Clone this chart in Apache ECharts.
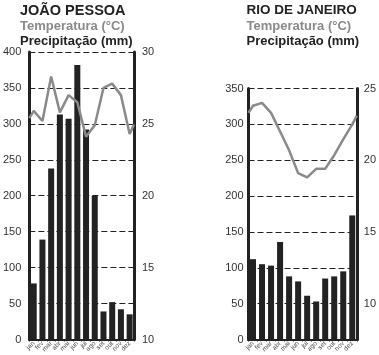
<!DOCTYPE html>
<html>
<head>
<meta charset="utf-8">
<script src="https://cdn.jsdelivr.net/npm/echarts@6/dist/echarts.min.js"></script>
<style>
html,body{margin:0;padding:0;background:#fff;}
#chart{width:379px;height:355px;}
</style>
</head>
<body>
<div id="chart"></div>
<script>
// ---- data ----
const months = ['jan','fev','mar','abr','mai','jun','jul','ago','set','out','nov','dez'];

const jpTitle = 'JOÃO PESSOA';
const jpPrecip = [78, 139, 238, 313, 307, 382, 292, 200, 39, 52, 42, 35];
const jpTemp = [25.9, 25.2, 28.3, 25.8, 27.0, 26.5, 24.1, 24.9, 27.5, 27.8, 27.0, 24.3];
const jpTempEdges = [25.4, 24.95];   // line value at the left / right axis

const rjTitle = 'RIO DE JANEIRO';
const rjPrecip = [112, 105, 103, 136, 88, 81, 61, 53, 85, 88, 95, 173];
const rjTemp = [23.8, 24.0, 23.3, 22.0, 20.7, 19.1, 18.8, 19.4, 19.4, 20.35, 21.45, 22.5];
const rjTempEdges = [23.3, 23.1];

const tempLabel = 'Temperatura (°C)';
const precLabel = 'Precipitação (mm)';

// ---- chart ----
const FONT = '"Liberation Sans", Arial, sans-serif';
const DARK = '#222';
const GREY = '#8a8a8a';

function linePts(temps, edges) {
  const pts = [[0, edges[0]]];
  temps.forEach((t, i) => pts.push([i + 0.5, t]));
  pts.push([months.length, edges[1]]);
  return pts;
}

function titles(x, name, nameSize) {
  return [
    {text: name, left: x, top: 3.5, padding: 0,
     textStyle: {fontFamily: FONT, fontWeight: 'bold', fontSize: nameSize, color: DARK}},
    {text: tempLabel, left: x, top: 20, padding: 0,
     textStyle: {fontFamily: FONT, fontWeight: 'bold', fontSize: 13, color: GREY}},
    {text: precLabel, left: x, top: 34.5, padding: 0,
     textStyle: {fontFamily: FONT, fontWeight: 'bold', fontSize: 13, color: DARK}}
  ];
}

function catAxis(gi) {
  return {
    type: 'category', gridIndex: gi, data: months,
    axisLine: {lineStyle: {color: DARK, width: 2}},
    axisTick: {show: true, length: 2, interval: 0, lineStyle: {color: DARK}},
    axisLabel: {rotate: 45, fontSize: 6.5, margin: 3, interval: 0, color: '#444', fontFamily: FONT}
  };
}
function hiddenX(gi) {
  return {type: 'value', gridIndex: gi, min: 0, max: months.length, show: false};
}
function precAxis(gi, max, margin) {
  return {
    type: 'value', gridIndex: gi, min: 0, max: max, interval: 50, position: 'left',
    axisLine: {show: true, lineStyle: {color: DARK, width: 3}},
    axisTick: {show: false},
    axisLabel: {fontSize: 11, color: '#333', margin: margin, fontFamily: FONT},
    splitLine: {show: true, lineStyle: {color: DARK, width: 1, type: [6, 3]}}
  };
}
function tempAxis(gi, min, max, interval, margin) {
  return {
    type: 'value', gridIndex: gi, min: min, max: max, interval: interval, position: 'right',
    axisLine: {show: true, lineStyle: {color: DARK, width: 3}},
    axisTick: {show: false},
    axisLabel: {fontSize: 11, color: '#333', margin: margin, fontFamily: FONT,
      formatter: v => (Math.abs(v % 5) < 1e-9 ? String(v) : '')},
    splitLine: {show: false}
  };
}

const chart = echarts.init(document.getElementById('chart'), null, {renderer: 'canvas'});
chart.setOption({
  animation: false,
  backgroundColor: '#fff',
  title: titles(20, jpTitle, 14.5).concat(titles(246.5, rjTitle, 13.5)),
  grid: [
    {left: 23, top: 52, width: 111, height: 288},
    {left: 248.5, top: 88.5, width: 111, height: 251.5}
  ],
  xAxis: [catAxis(0), hiddenX(0), catAxis(1), hiddenX(1)],
  yAxis: [
    precAxis(0, 400, 8),
    tempAxis(0, 10, 30, 5, 8),
    precAxis(1, 350, 5),
    tempAxis(1, 7.5, 25, 2.5, 7)
  ],
  series: [
    {type: 'bar', xAxisIndex: 0, yAxisIndex: 0, data: jpPrecip, barWidth: 6,
     itemStyle: {color: DARK}},
    {type: 'line', xAxisIndex: 1, yAxisIndex: 1, data: linePts(jpTemp, jpTempEdges),
     symbol: 'none', lineStyle: {color: GREY, width: 2.5}},
    {type: 'bar', xAxisIndex: 2, yAxisIndex: 2, data: rjPrecip, barWidth: 6,
     itemStyle: {color: DARK}},
    {type: 'line', xAxisIndex: 3, yAxisIndex: 3, data: linePts(rjTemp, rjTempEdges),
     symbol: 'none', lineStyle: {color: GREY, width: 2.5}}
  ]
});
</script>
</body>
</html>
